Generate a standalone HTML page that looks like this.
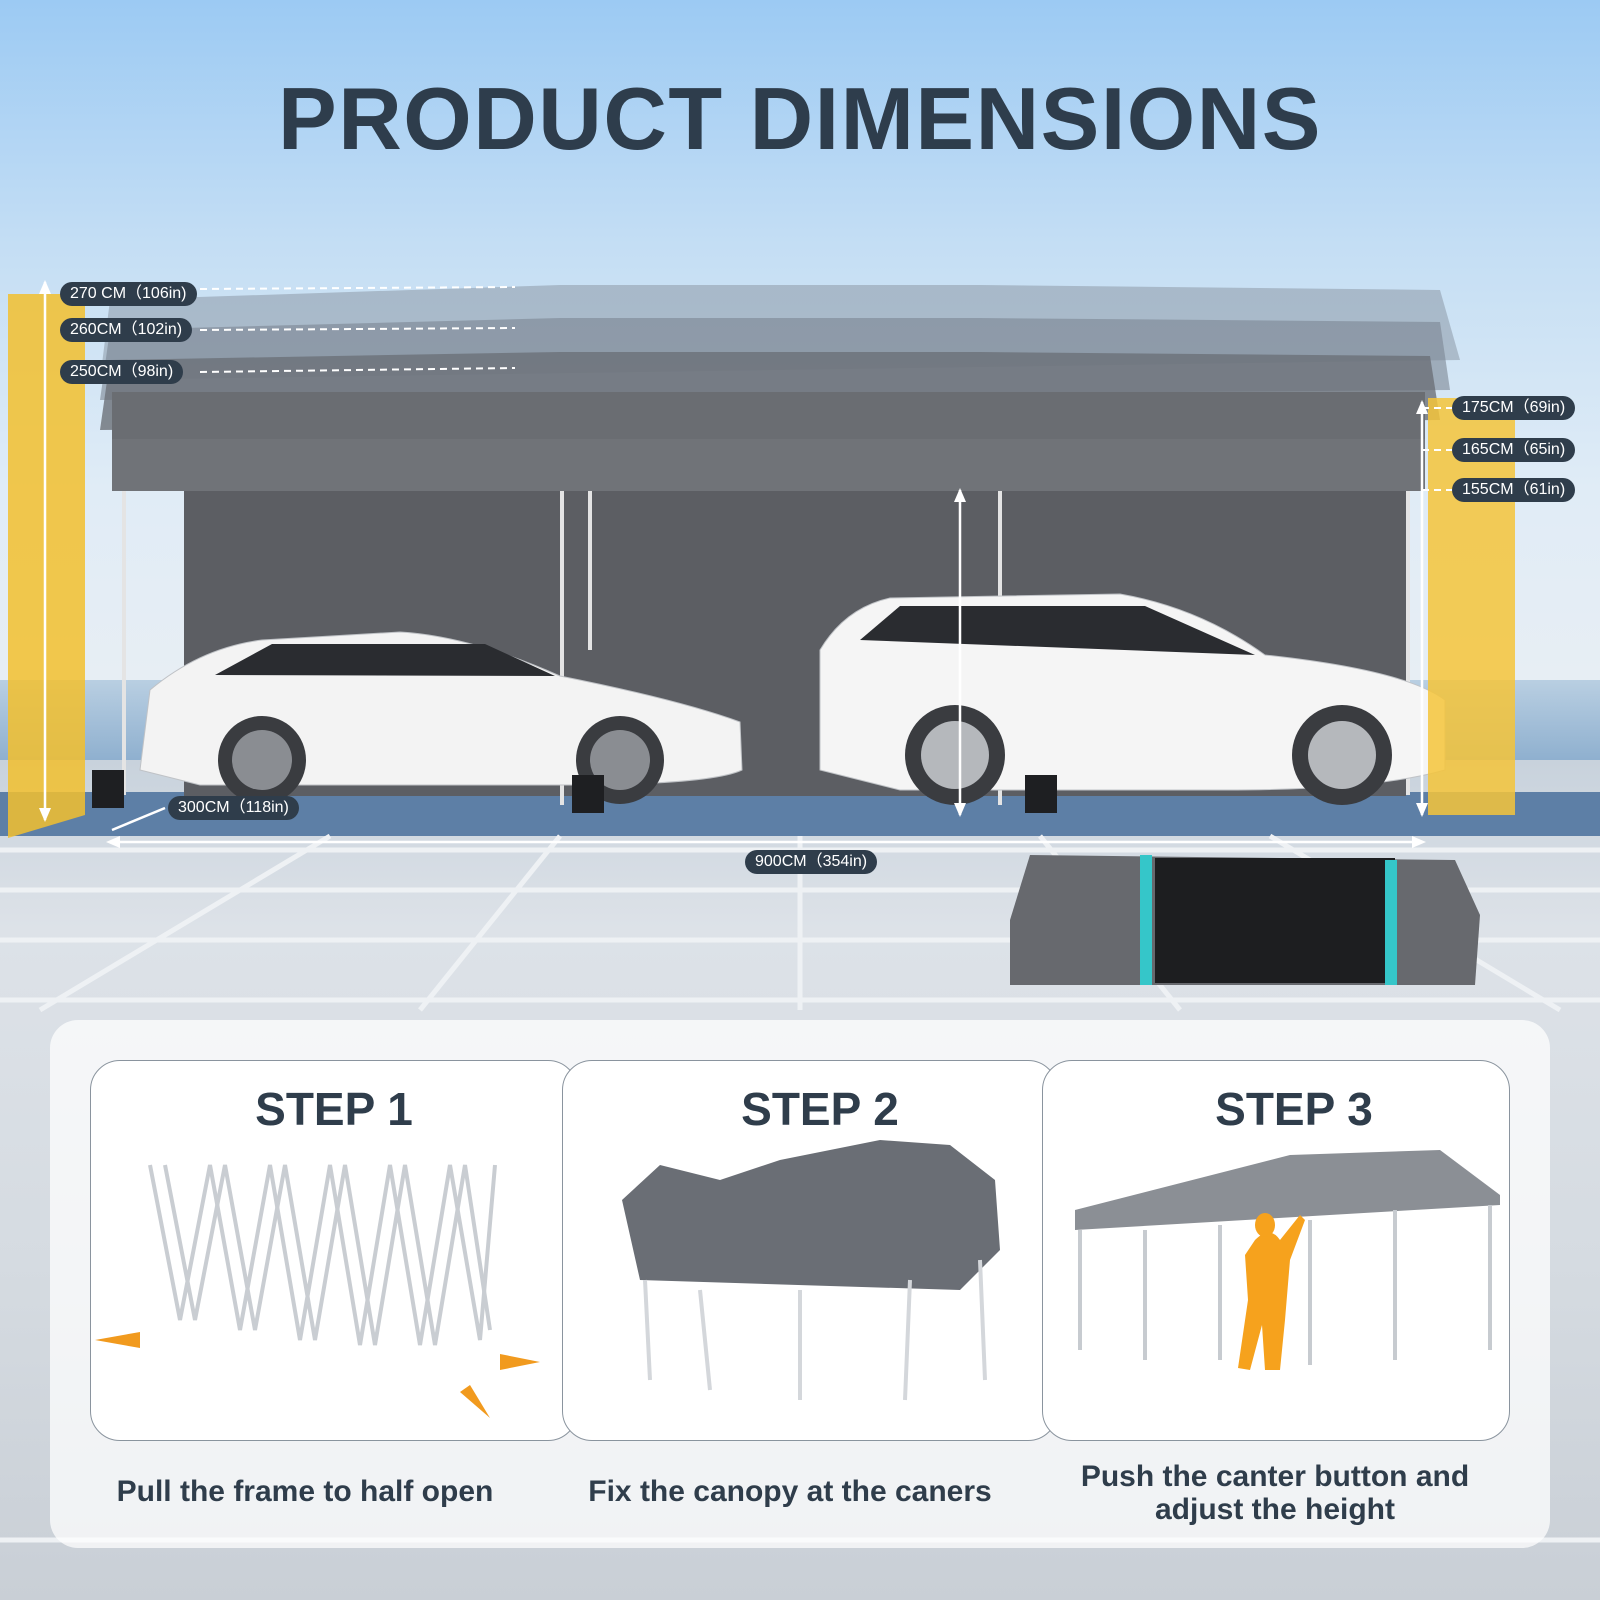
<!DOCTYPE html>
<html><head><meta charset="utf-8"><style>
*{margin:0;padding:0;box-sizing:border-box}
html,body{width:1600px;height:1600px;overflow:hidden}
body{position:relative;font-family:"Liberation Sans","DejaVu Sans",sans-serif;background:#d9dee4}
.abs{position:absolute}
.pill{position:absolute;background:#2f3d4b;color:#fff;font-size:16px;border-radius:12px;height:24px;line-height:24px;padding:0 10px;white-space:nowrap}
.card{position:absolute;background:#fff;border:1.5px solid #8a949e;border-radius:30px}
.st{position:absolute;font-weight:bold;font-size:46px;color:#2f3d4b;text-align:center}
.cap{position:absolute;font-weight:bold;font-size:30px;color:#2f3d4b;text-align:center;line-height:33px}
</style></head><body>
<div class="abs" style="left:0;top:0;width:1600px;height:700px;background:linear-gradient(#9ccaf3 0%,#c4def4 35%,#e0ecf6 70%,#e8eef4 100%)"></div>
<div class="abs" style="left:0;top:680px;width:1600px;height:80px;background:linear-gradient(#b9cfe2,#8fb0cf)"></div>
<div class="abs" style="left:0;top:760px;width:1600px;height:840px;background:linear-gradient(#c8d2dc 0%,#dde2e8 20%,#d5dbe1 60%,#c9cfd6 100%)"></div>
<div class="abs" style="left:0;top:792px;width:1600px;height:44px;background:#5d7fa6"></div>
<svg class="abs" style="left:0;top:0" width="1600" height="1600">
 <g stroke="#eef1f4" stroke-width="5" fill="none">
  <line x1="0" y1="850" x2="1600" y2="850"/><line x1="0" y1="890" x2="1600" y2="890"/>
  <line x1="0" y1="940" x2="1600" y2="940"/><line x1="0" y1="1000" x2="1600" y2="1000"/>
  <line x1="0" y1="1540" x2="1600" y2="1540"/>
  <line x1="800" y1="836" x2="800" y2="1010"/><line x1="560" y1="836" x2="420" y2="1010"/>
  <line x1="330" y1="836" x2="40" y2="1010"/><line x1="1040" y1="836" x2="1180" y2="1010"/>
  <line x1="1270" y1="836" x2="1560" y2="1010"/>
 </g>
 <polygon points="110,300 560,285 980,285 1440,290 1460,360 100,380" fill="#8d99a6" opacity="0.55"/>
 <polygon points="110,330 560,318 980,318 1440,322 1450,390 100,400" fill="#7b8592" opacity="0.6"/>
 <polygon points="110,360 560,352 980,352 1430,356 1440,420 100,430" fill="#6b7178" opacity="0.8"/>
 <rect x="112" y="392" width="1313" height="47" fill="#6a6d72"/>
 <rect x="112" y="439" width="1313" height="52" fill="#707378"/>
 <rect x="184" y="491" width="1222" height="305" fill="#5c5e63"/>
 <g stroke="#e4e4e4" stroke-width="4">
  <line x1="124" y1="491" x2="124" y2="795"/><line x1="562" y1="491" x2="562" y2="805"/>
  <line x1="590" y1="491" x2="590" y2="650"/><line x1="1000" y1="491" x2="1000" y2="805"/>
  <line x1="1408" y1="491" x2="1408" y2="795"/>
 </g>
 <path d="M140,770 L150,690 Q200,648 262,640 L400,632 Q470,636 560,676 Q680,700 740,722 L742,770 Q710,785 560,785 L200,785 Z" fill="#f3f3f3" stroke="#bfc2c6"/>
 <path d="M215,675 L272,644 L485,644 L555,676 Z" fill="#2a2c30"/>
 <circle cx="262" cy="760" r="44" fill="#3a3c40"/><circle cx="262" cy="760" r="30" fill="#8a8d92"/>
 <circle cx="620" cy="760" r="44" fill="#3a3c40"/><circle cx="620" cy="760" r="30" fill="#8a8d92"/>
 <path d="M820,770 L820,650 Q845,608 890,598 L1120,594 Q1200,608 1265,655 Q1405,670 1445,700 L1445,770 Q1375,790 1225,790 L900,790 Z" fill="#f5f5f5" stroke="#c0c3c7"/>
 <path d="M860,640 L900,606 L1145,606 L1255,655 Z" fill="#2a2c30"/>
 <circle cx="955" cy="755" r="50" fill="#3a3c40"/><circle cx="955" cy="755" r="34" fill="#b5b8bc"/>
 <circle cx="1342" cy="755" r="50" fill="#3a3c40"/><circle cx="1342" cy="755" r="34" fill="#b5b8bc"/>
 <rect x="92" y="770" width="32" height="38" fill="#1e1f22"/><rect x="572" y="775" width="32" height="38" fill="#1e1f22"/>
 <rect x="1025" y="775" width="32" height="38" fill="#1e1f22"/>
 <polygon points="8,294 85,294 85,815 8,838" fill="#f2c02e" opacity="0.85"/>
 <polygon points="1428,398 1515,398 1515,815 1428,815" fill="#f4c43a" opacity="0.85"/>
 <g stroke="#fff" stroke-width="2.5" fill="#fff">
  <line x1="45" y1="282" x2="45" y2="820"/>
  <line x1="960" y1="490" x2="960" y2="815"/>
  <line x1="1422" y1="402" x2="1422" y2="815"/>
  <line x1="110" y1="842" x2="1422" y2="842"/>
  <line x1="112" y1="830" x2="165" y2="808"/>
 </g>
 <g fill="#fff">
  <polygon points="45,280 39,294 51,294"/><polygon points="45,822 39,808 51,808"/>
  <polygon points="960,488 954,502 966,502"/><polygon points="960,817 954,803 966,803"/>
  <polygon points="1422,400 1416,414 1428,414"/><polygon points="1422,817 1416,803 1428,803"/>
  <polygon points="106,842 120,836 120,848"/><polygon points="1426,842 1412,836 1412,848"/>
 </g>
 <g stroke="#fff" stroke-width="2" stroke-dasharray="7,5">
  <line x1="200" y1="289" x2="515" y2="287"/><line x1="200" y1="330" x2="515" y2="328"/>
  <line x1="200" y1="372" x2="515" y2="368"/>
  <line x1="1422" y1="408" x2="1455" y2="408"/><line x1="1422" y1="450" x2="1455" y2="450"/>
  <line x1="1422" y1="490" x2="1455" y2="490"/>
 </g>
 <polygon points="1030,855 1455,860 1480,915 1475,985 1010,985 1010,920" fill="#67696e"/>
 <rect x="1155" y="858" width="240" height="125" fill="#1d1e20"/>
 <rect x="1140" y="855" width="12" height="130" fill="#35c6c9"/>
 <rect x="1385" y="860" width="12" height="125" fill="#35c6c9"/>
</svg>
<div class="abs" style="left:0;top:68px;width:1600px;text-align:center;font-weight:bold;font-size:88px;color:#2e3d4c;letter-spacing:1.5px">PRODUCT DIMENSIONS</div>
<div class="pill" style="left:60px;top:282px">270 CM（106in)</div>
<div class="pill" style="left:60px;top:318px">260CM（102in)</div>
<div class="pill" style="left:60px;top:360px">250CM（98in)</div>
<div class="pill" style="left:1452px;top:396px">175CM（69in)</div>
<div class="pill" style="left:1452px;top:438px">165CM（65in)</div>
<div class="pill" style="left:1452px;top:478px">155CM（61in)</div>
<div class="pill" style="left:168px;top:796px">300CM（118in)</div>
<div class="pill" style="left:745px;top:850px">900CM（354in)</div>
<div class="abs" style="left:50px;top:1020px;width:1500px;height:528px;background:rgba(255,255,255,0.72);border-radius:28px"></div>
<div class="card" style="left:90px;top:1060px;width:488px;height:381px"></div>
<div class="card" style="left:562px;top:1060px;width:496px;height:381px"></div>
<div class="card" style="left:1042px;top:1060px;width:468px;height:381px"></div>
<div class="st" style="left:90px;top:1082px;width:488px">STEP 1</div>
<div class="st" style="left:572px;top:1082px;width:496px">STEP 2</div>
<div class="st" style="left:1060px;top:1082px;width:468px">STEP 3</div>
<svg class="abs" style="left:0;top:0" width="1600" height="1600">
 <g stroke="#c9cdd2" stroke-width="4" fill="none">
  <path d="M150,1165 L180,1320 L210,1165 L240,1330 L270,1165 L300,1340 L330,1165 L360,1345 L390,1165 L420,1345 L450,1165 L480,1340 L495,1165"/>
  <path d="M165,1165 L195,1320 L225,1165 L255,1330 L285,1165 L315,1340 L345,1165 L375,1345 L405,1165 L435,1345 L465,1165 L490,1330"/>
 </g>
 <g fill="#f19a1e"><polygon points="95,1340 140,1332 140,1348"/><polygon points="540,1362 500,1354 500,1370"/><polygon points="490,1418 460,1392 470,1385"/></g>
 <polygon points="622,1200 660,1165 720,1180 780,1160 830,1150 880,1140 950,1145 995,1180 1000,1250 960,1290 640,1280" fill="#6a6e75"/>
 <g stroke="#d4d7db" stroke-width="4"><line x1="645" y1="1280" x2="650" y2="1380"/><line x1="700" y1="1290" x2="710" y2="1390"/><line x1="800" y1="1290" x2="800" y2="1400"/><line x1="910" y1="1280" x2="905" y2="1400"/><line x1="980" y1="1260" x2="985" y2="1380"/></g>
 <polygon points="1075,1210 1290,1155 1440,1150 1500,1195 1500,1205 1075,1230" fill="#8b8f95"/>
 <g stroke="#c7cbd0" stroke-width="4"><line x1="1080" y1="1230" x2="1080" y2="1350"/><line x1="1145" y1="1230" x2="1145" y2="1360"/><line x1="1220" y1="1225" x2="1220" y2="1360"/><line x1="1310" y1="1220" x2="1310" y2="1365"/><line x1="1395" y1="1210" x2="1395" y2="1360"/><line x1="1490" y1="1205" x2="1490" y2="1350"/></g>
 <path d="M1255,1240 Q1270,1225 1280,1240 L1300,1215 L1305,1220 L1290,1260 L1285,1320 L1280,1370 L1265,1370 L1262,1325 L1250,1370 L1238,1368 L1248,1300 L1245,1255 Z" fill="#f6a21d"/>
 <ellipse cx="1265" cy="1225" rx="10" ry="12" fill="#f6a21d"/>
</svg>
<div class="cap" style="left:90px;top:1475px;width:430px">Pull the frame to half open</div>
<div class="cap" style="left:560px;top:1475px;width:460px">Fix the canopy at the caners</div>
<div class="cap" style="left:1040px;top:1460px;width:470px">Push the canter button and adjust the height</div>
</body></html>
